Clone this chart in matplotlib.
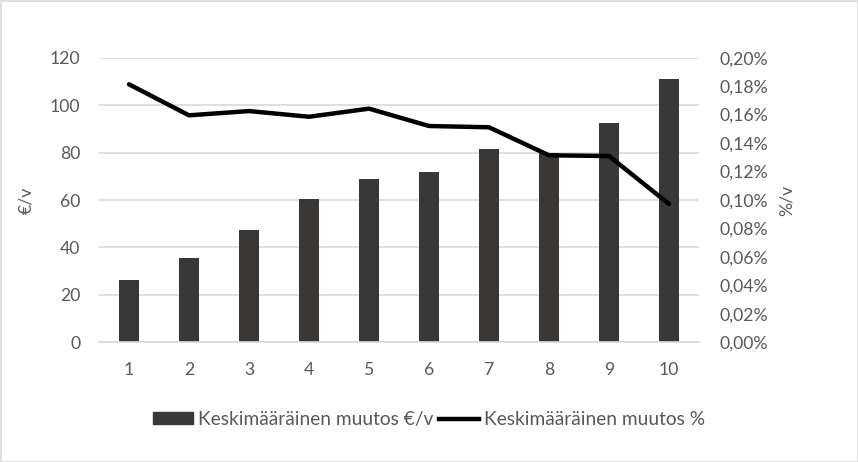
import matplotlib
matplotlib.use("Agg")
import matplotlib.pyplot as plt
from matplotlib.patches import Rectangle
from matplotlib.lines import Line2D

categories = [1, 2, 3, 4, 5, 6, 7, 8, 9, 10]
euro_change = [26.3, 35.5, 47.3, 60.4, 68.8, 71.8, 81.5, 79.7, 92.5, 111.0]
pct_change = [0.1813, 0.1595, 0.1625, 0.1585, 0.1642, 0.1520, 0.1511, 0.1314, 0.1309, 0.0972]
left_ticks = [0, 20, 40, 60, 80, 100, 120]
right_ticks = [0.00, 0.02, 0.04, 0.06, 0.08, 0.10, 0.12, 0.14, 0.16, 0.18, 0.20]
right_tick_labels = ["0,00%", "0,02%", "0,04%", "0,06%", "0,08%", "0,10%",
                     "0,12%", "0,14%", "0,16%", "0,18%", "0,20%"]
bar_label = "Keskimääräinen muutos €/v"
line_label = "Keskimääräinen muutos %"

plt.rcParams['font.family'] = ['Lato', 'DejaVu Sans']
txt = '#595959'
grid = '#d9d9d9'
fs = 12.7
W, H = 858, 462
fig = plt.figure(figsize=(W/100, H/100), dpi=100)
fig.patches.append(Rectangle((0.5/W, 0.5/H), 1-1/W, 1-1/H, transform=fig.transFigure,
                             fill=False, edgecolor=grid, linewidth=1.2))

ax = fig.add_axes([99/W, 1-342.3/H, 600/W, (342.3-57.7)/H])
ax.bar(categories, euro_change, width=0.32, color='#3a3836', zorder=2)
ax.set_xlim(0.5, 10.5)
ax.set_ylim(0, 120)
ax.set_yticks(left_ticks)
ax.set_xticks(categories)
ax.yaxis.grid(True, color=grid, linewidth=1.2, zorder=0)
ax.set_axisbelow(True)
for s in ['top', 'right', 'left']:
    ax.spines[s].set_visible(False)
ax.spines['bottom'].set_color(grid)
ax.spines['bottom'].set_linewidth(1.2)
ax.tick_params(axis='both', length=0, colors=txt, labelsize=fs)
ax.tick_params(axis='y', pad=13.5)
ax.tick_params(axis='x', pad=14.5)
ax.set_ylabel("€/v", color=txt, fontsize=fs, labelpad=11)

ax2 = ax.twinx()
ax2.plot(categories, pct_change, color='black', linewidth=3.2, solid_capstyle='round', zorder=3)
ax2.set_ylim(0, 0.2)
ax2.set_yticks(right_ticks)
ax2.set_yticklabels(right_tick_labels)
for s in ['top', 'right', 'left', 'bottom']:
    ax2.spines[s].set_visible(False)
ax2.tick_params(axis='y', length=0, colors=txt, labelsize=fs, pad=14.5)
ax2.set_ylabel("%/v", color=txt, fontsize=fs, labelpad=8, rotation=90)

handles = [Rectangle((0, 0), 1, 1, color='#3a3836'),
           Line2D([0], [0], color='black', linewidth=3.2)]
fig.legend(handles, [bar_label, line_label], loc='center', bbox_to_anchor=(0.5, 1-419.5/H),
           ncol=2, frameon=False, fontsize=13.8, labelcolor=txt,
           handlelength=2.1, handleheight=0.55, handletextpad=0.25, columnspacing=0.3)

fig.savefig("out.png", dpi=100)
